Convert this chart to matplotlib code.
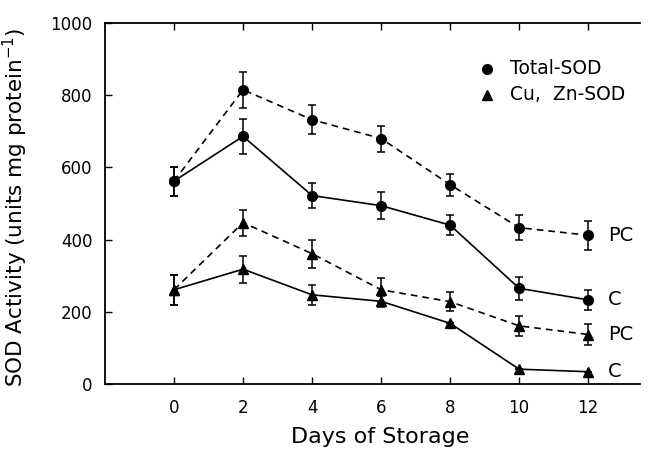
import matplotlib
matplotlib.use("Agg")

import matplotlib.pyplot as plt

days = [0, 2, 4, 6, 8, 10, 12]

total_pc = [562, 815, 732, 680, 552, 433, 412]
total_pc_err = [40, 50, 40, 36, 30, 35, 40]
total_c = [562, 686, 522, 494, 440, 265, 233]
total_c_err = [40, 48, 35, 38, 28, 31, 27]

cuzn_pc = [261, 447, 361, 261, 228, 161, 137]
cuzn_pc_err = [41, 36, 39, 33, 26, 28, 30]
cuzn_c = [261, 318, 247, 229, 168, 41, 34]
cuzn_c_err = [41, 37, 28, 16, 0, 0, 0]

end_labels = ["PC", "C", "PC", "C"]

plt.rcParams["font.family"] = ["DejaVu Sans"]

figure = plt.figure(figsize=(6.5, 4.5), dpi=100)
axes = figure.add_axes([0.1615, 0.1467, 0.8231, 0.8022])

line_kw = dict(color="black", linewidth=1.2, markersize=7, capsize=3.2,
               elinewidth=1.1, capthick=1.1)

axes.errorbar(days, total_pc, yerr=total_pc_err, fmt="o", linestyle=(0, (4, 3)), **line_kw)
axes.errorbar(days, total_c, yerr=total_c_err, fmt="o", linestyle="-", **line_kw)
axes.errorbar(days, cuzn_pc, yerr=cuzn_pc_err, fmt="^", linestyle=(0, (4, 3)), **line_kw)
axes.errorbar(days, cuzn_c, yerr=cuzn_c_err, fmt="^", linestyle="-", **line_kw)

last_values = [total_pc[-1], total_c[-1], cuzn_pc[-1], cuzn_c[-1]]
for text, value in zip(end_labels, last_values):
    axes.text(days[-1] + 0.58, value, text, fontsize=14, va="center", ha="left")

# legend drawn by hand like the original
axes.plot([9.07], [873], marker="o", color="black", markersize=7, linestyle="None")
axes.plot([9.07], [801], marker="^", color="black", markersize=7, linestyle="None")
axes.text(9.74, 873, "Total-SOD", fontsize=13.5, va="center")
axes.text(9.74, 801, "Cu,  Zn-SOD", fontsize=13.5, va="center")

axes.set_xlim(-2, 13.5)
axes.set_ylim(0, 1000)
axes.set_xticks(days)
axes.set_yticks([0, 200, 400, 600, 800, 1000])
axes.tick_params(direction="in", length=5, width=1.0, labelsize=12, top=True)
axes.tick_params(axis="x", pad=11)
axes.tick_params(axis="y", pad=9)
axes.spines["right"].set_visible(False)
for side in ["left", "top", "bottom"]:
    axes.spines[side].set_linewidth(1.3)

axes.set_xlabel("Days of Storage", fontsize=16, va="center")
axes.xaxis.set_label_coords(0.515, -0.147)
axes.set_ylabel("SOD Activity (units mg protein$^{-1}$)", fontsize=15.5, va="center")
axes.yaxis.set_label_coords(-0.168, 0.49)

figure.savefig("out.png", dpi=100)
